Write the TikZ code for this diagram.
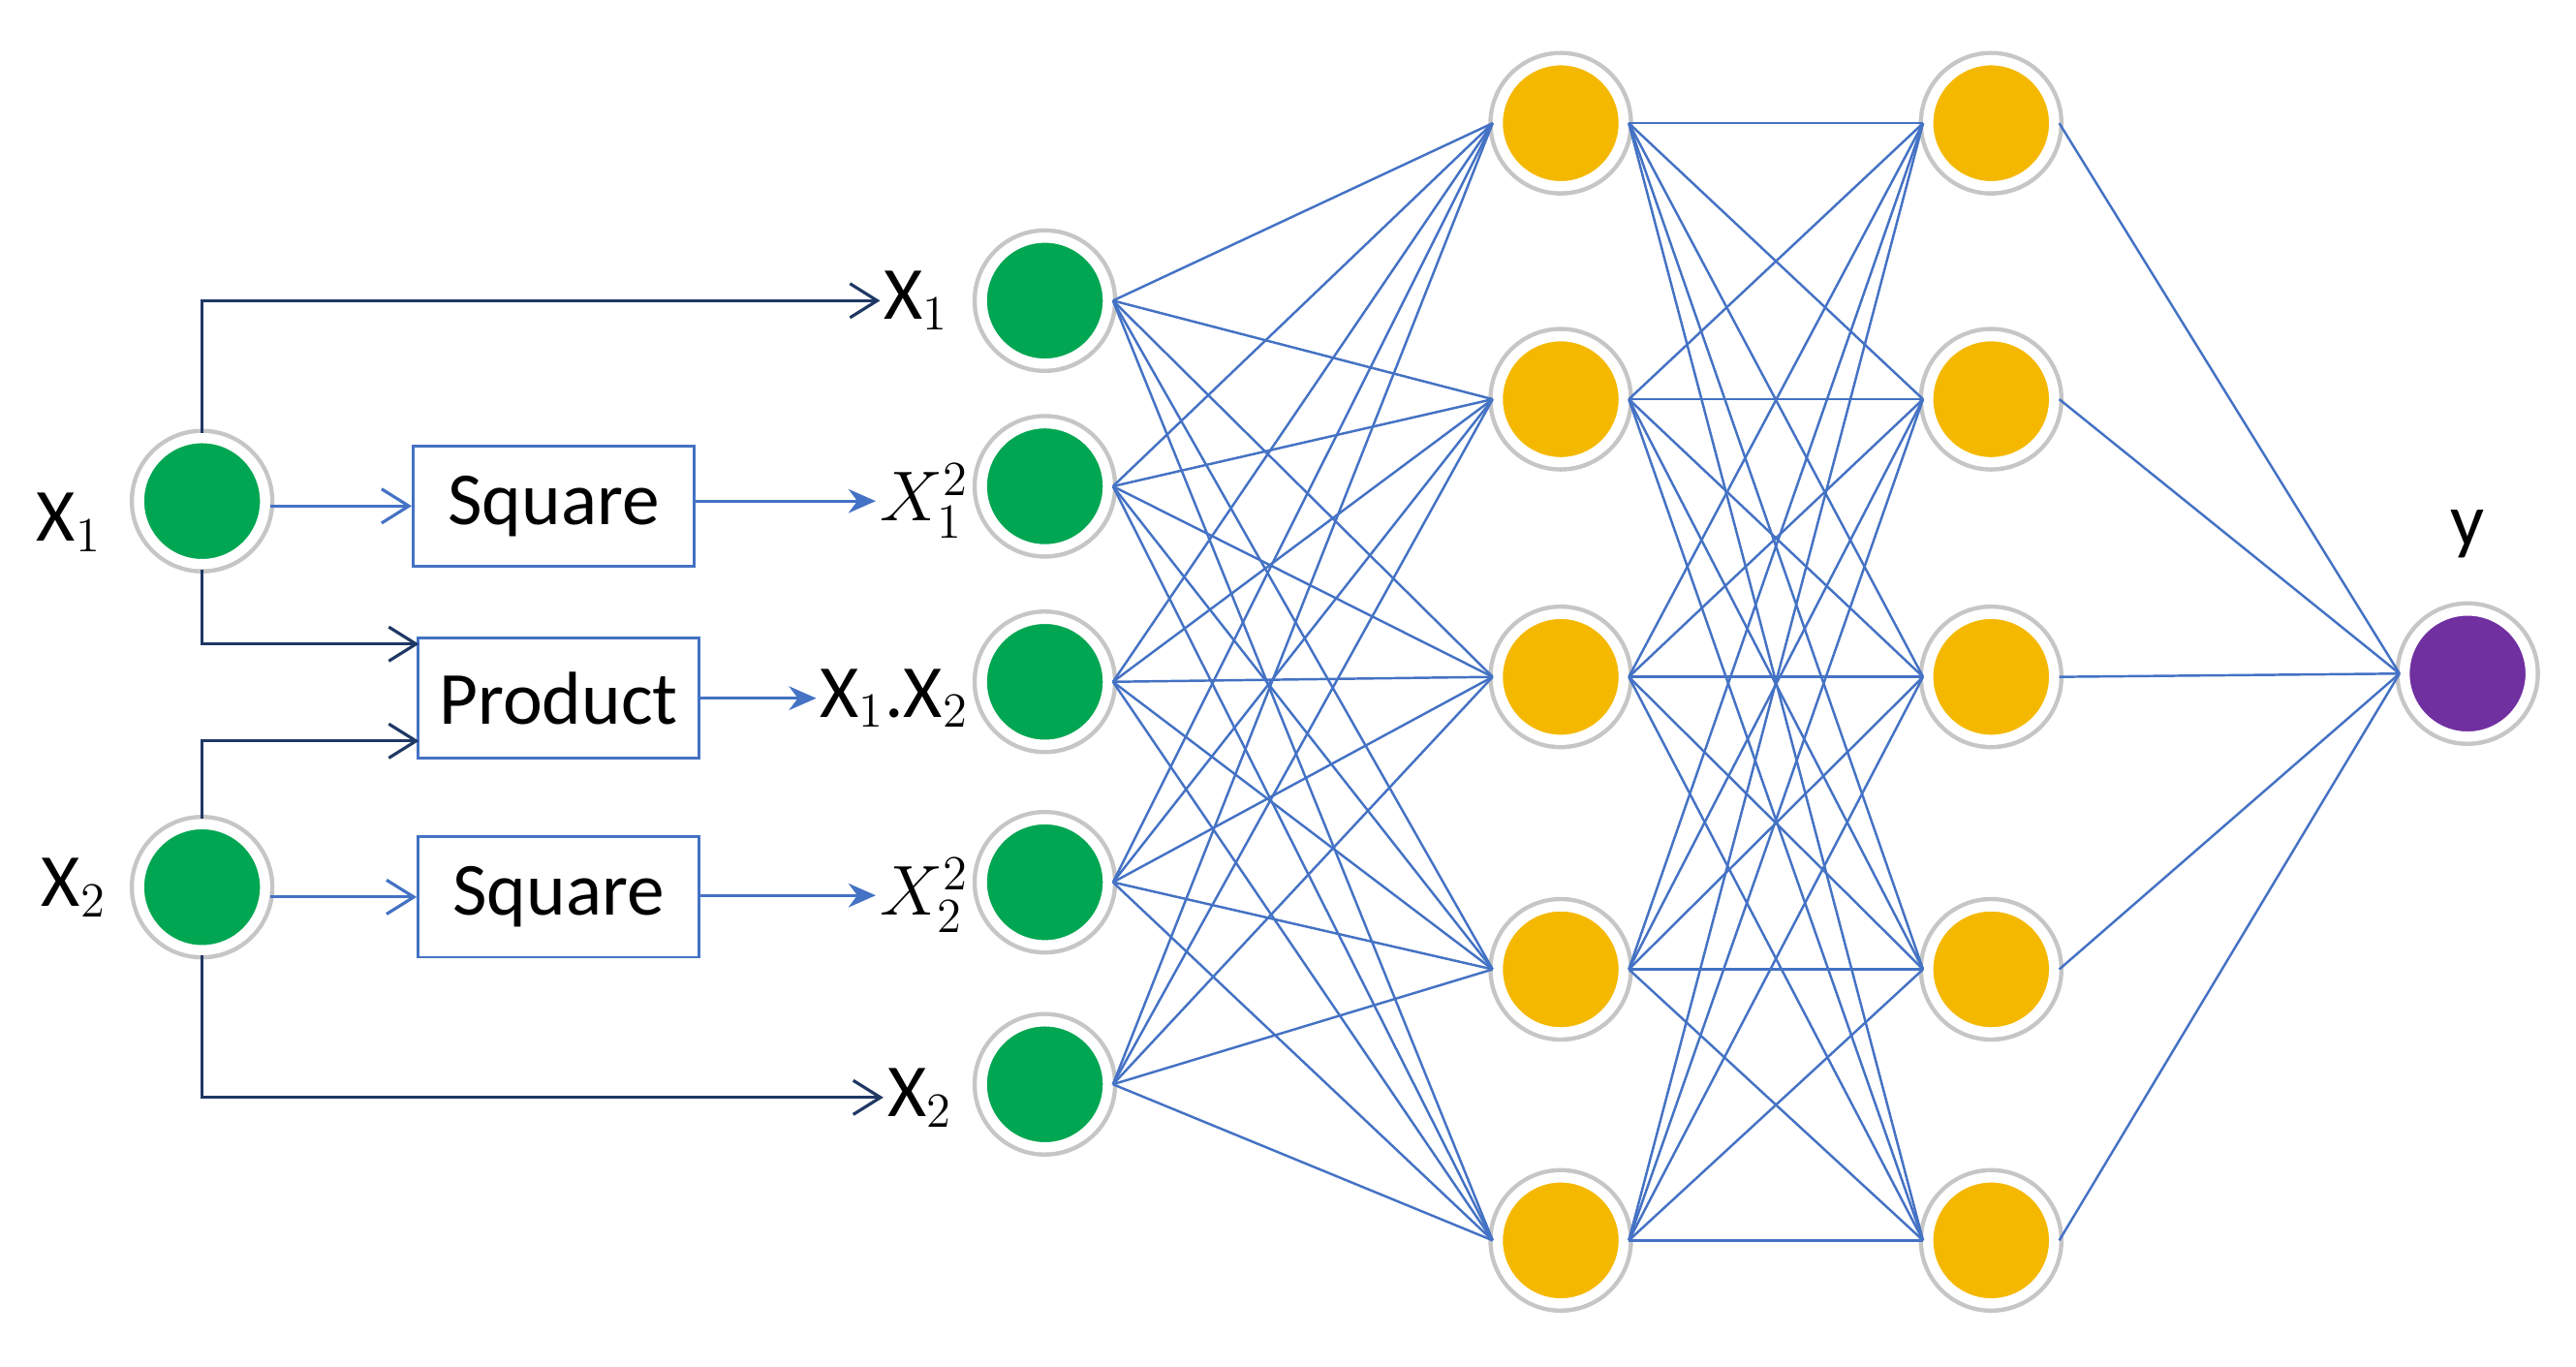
\documentclass[tikz,border=0pt]{standalone}
\usepackage{fontspec}
\setmainfont{Carlito}
\usetikzlibrary{arrows.meta,shadows}
\definecolor{lb}{HTML}{4472C4}
\definecolor{nv}{HTML}{1F3864}
\definecolor{gr}{HTML}{00A651}
\definecolor{gd}{HTML}{F5B800}
\definecolor{pu}{HTML}{7030A0}
\begin{document}
\begin{tikzpicture}[x=0.01696cm,y=-0.01696cm,
 neu/.style={circle,minimum size=1.3cm,draw=white,line width=3pt,preaction={draw=gray!45,line width=5.5pt},drop shadow={shadow xshift=0.5pt,shadow yshift=-1.5pt,opacity=0.3}},
 g/.style={neu,fill=gr},o/.style={neu,fill=gd},p/.style={neu,fill=pu},
 box/.style={draw=lb,line width=0.8pt,minimum width=2.9cm,minimum height=1.24cm,font=\fontsize{22}{24}\selectfont},
 lab/.style={font=\fontsize{22}{24}\selectfont},
 wire/.style={lb,line width=0.7pt},
 oa/.style={-{Straight Barb[length=8pt,width=10pt]},line width=0.9pt},
 fa/.style={-{Stealth[length=8pt,width=7pt]},lb,line width=0.9pt}]
\useasboundingbox (0,0) rectangle (1568,832);
\node[lab] (lx1) at (42,318) {X$_1$};
\node[lab] (lx2) at (45,540) {X$_2$};
\node[g] (i1) at (123,305) {};
\node[g] (i2) at (123,540) {};
\node[box] (s1) at (337,308) {Square};
\node[box] (pr) at (340,425) {Product};
\node[box] (s2) at (340,546) {Square};
\foreach \y [count=\i] in {183,296,415,537,660}{\node[g] (a\i) at (636,\y) {};}
\foreach \y [count=\i] in {75,243,412,590,755}{\node[o] (b\i) at (950,\y) {};}
\foreach \y [count=\i] in {75,243,412,590,755}{\node[o] (c\i) at (1212,\y) {};}
\node[p] (out) at (1502,410) {};
\node[lab] (ly) at (1502,325) {y};
\node[lab,anchor=east,inner sep=1pt] (t1) at (580,183) {X$_1$};
\node[lab,anchor=east,inner sep=1pt] (t2) at (592,305) {$X_1^2$};
\node[lab,anchor=east,inner sep=1pt] (t3) at (592,425) {X$_1$.X$_2$};
\node[lab,anchor=east,inner sep=1pt] (t4) at (592,545) {$X_2^2$};
\node[lab,anchor=east,inner sep=1pt] (t5) at (582,668) {X$_2$};
\coordinate (pt) at (255,392);\coordinate (pb) at (255,451);
\draw[oa,nv] (i1.north) |- (t1.west);
\draw[oa,lb] (i1.east |- s1.west) -- (s1.west);
\draw[oa,nv] (i1.south) |- (pt);
\draw[oa,nv] (i2.north) |- (pb);
\draw[oa,lb] (i2.east |- s2.west) -- (s2.west);
\draw[oa,nv] (i2.south) |- (t5.west);
\draw[fa] (s1.east |- t2.west) -- (t2.west);
\draw[fa] (pr.east |- t3.west) -- (t3.west);
\draw[fa] (s2.east |- t4.west) -- (t4.west);
\foreach \i in {1,...,5}{\foreach \j in {1,...,5}{
 \draw[wire] (a\i.east) -- (b\j.west);
 \draw[wire] (b\i.east) -- (c\j.west);}
 \draw[wire] (c\i.east) -- (out.west);}
\end{tikzpicture}
\end{document}
